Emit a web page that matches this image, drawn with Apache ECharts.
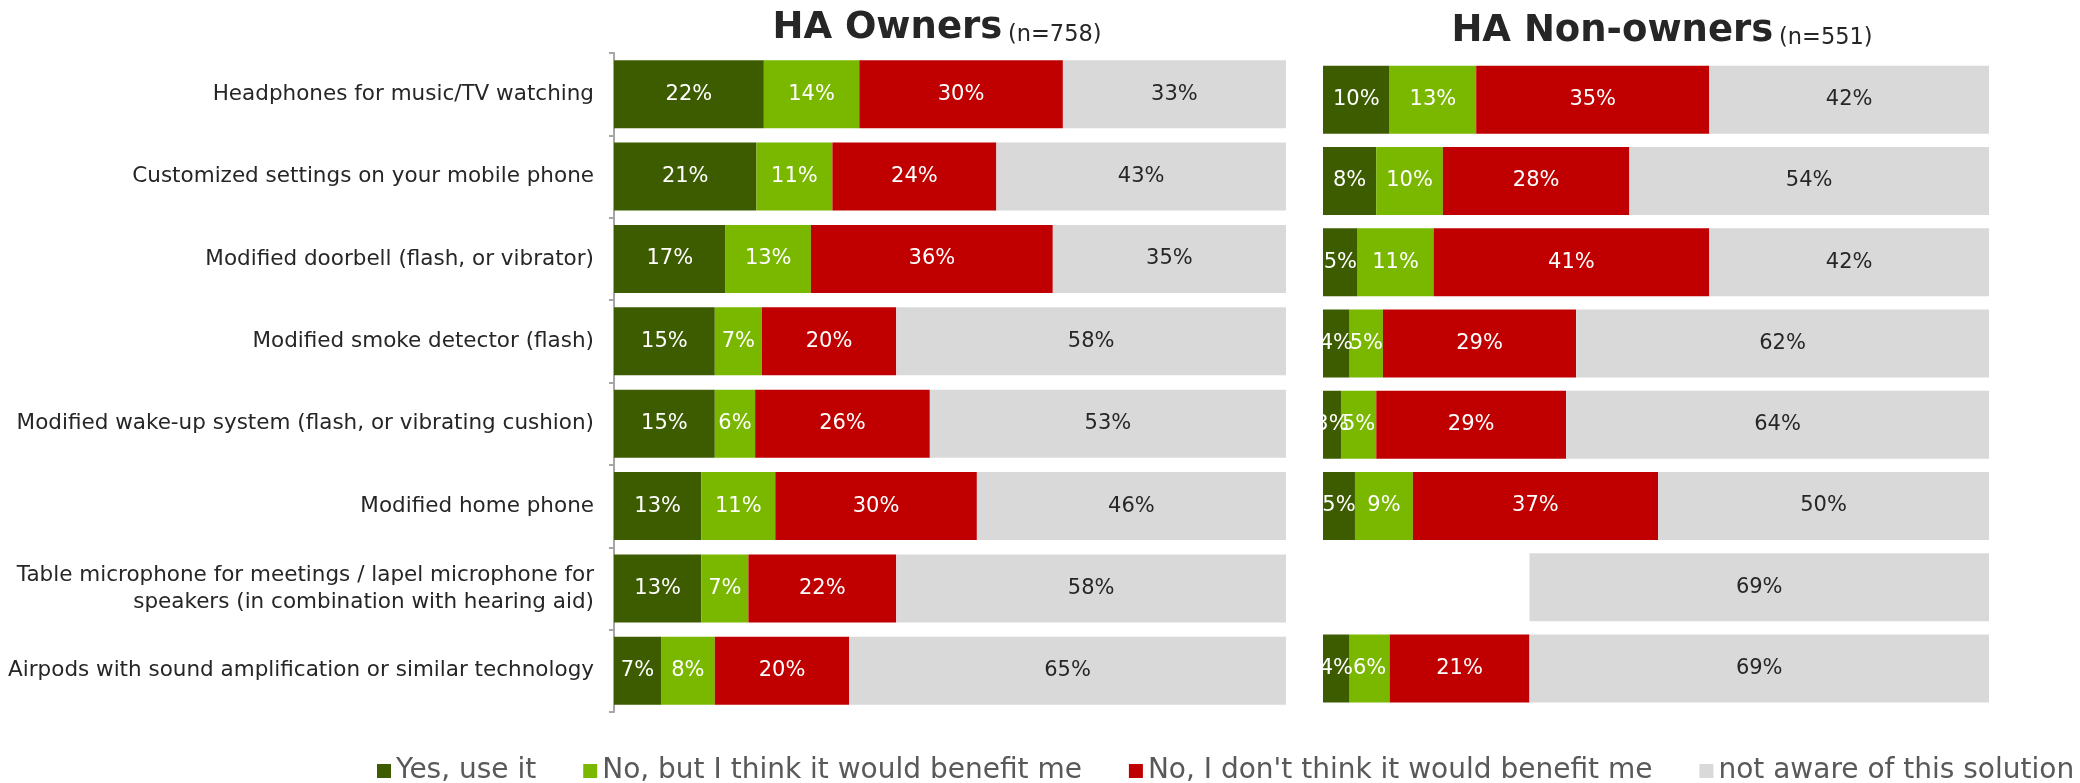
<!DOCTYPE html>
<html>
<head>
<meta charset="utf-8">
<title>Hearing solutions - HA owners vs non-owners</title>
<script src="https://cdn.jsdelivr.net/npm/echarts@6/dist/echarts.min.js"></script>
<style>
	html, body { margin: 0; padding: 0; background: #fff; }
	#chart { width: 2080px; height: 783px; }
</style>
</head>
<body>
<div id="chart"></div>
<script>
// categories (top to bottom)
var categories = [
	"Headphones for music/TV watching",
	"Customized settings on your mobile phone",
	"Modified doorbell (flash, or vibrator)",
	"Modified smoke detector (flash)",
	"Modified wake-up system (flash, or vibrating cushion)",
	"Modified home phone",
	"Table microphone for meetings / lapel microphone for\nspeakers (in combination with hearing aid)",
	"Airpods with sound amplification or similar technology"
];

var legendNames = [
	"Yes, use it",
	"No, but I think it would benefit me",
	"No, I don't think it would benefit me",
	"not aware of this solution"
];

// HA Owners (n=758), percent
var ownersYes = [22.3, 21.2, 16.6, 15, 15, 13, 13, 7];
var ownersBenefit = [14.2, 11.3, 12.7, 7, 6, 11, 7, 8];
var ownersNoBenefit = [30.3, 24.4, 36.0, 20, 26, 30, 22, 20];
var ownersUnaware = [33.2, 43.1, 34.7, 58, 53, 46, 58, 65];

// HA Non-owners (n=551), percent. row 7 only has the "not aware" part, shifted right
var nonOwnersYes = [10, 8, 5.2, 4, 2.7, 4.8, "-", 4];
var nonOwnersBenefit = [13, 10, 11.4, 5, 5.3, 8.7, "-", 6];
var nonOwnersNoBenefit = [35, 28, 41.4, 29, 28.5, 36.8, "-", 21];
var nonOwnersBlank = ["-", "-", "-", "-", "-", "-", 31, "-"];
var nonOwnersUnaware = [42, 54, 42, 62, 63.5, 49.7, 69, 69];

var colors = ["#3d5c00", "#7ab800", "#c00000", "#d9d9d9"];
var fontName = "DejaVu Sans";

function pctLabel(color) {
	return {
		show: true,
		position: "inside",
		color: color,
		fontFamily: fontName,
		fontSize: 21,
		formatter: function(p) {
			return Math.round(p.value) + "%";
		}
	};
}

function barSeries(name, data, idx, gridIdx) {
	return {
		name: name,
		type: "bar",
		stack: "s" + gridIdx,
		xAxisIndex: gridIdx,
		yAxisIndex: gridIdx,
		barWidth: 68,
		data: data,
		itemStyle: { color: colors[idx] },
		label: pctLabel(idx === 3 ? "#262626" : "#ffffff"),
		emphasis: { disabled: true }
	};
}

// title text styles (big bold name + small sample size)
var titleRich = {
	a: { fontFamily: fontName, fontWeight: "bold", fontSize: 37, color: "#262626", verticalAlign: "bottom", lineHeight: 44 },
	b: { fontFamily: fontName, fontWeight: "normal", fontSize: 22.5, color: "#262626", verticalAlign: "bottom", lineHeight: 38 }
};

function drawChart() {
	var chart = echarts.init(document.getElementById("chart"), null, { renderer: "canvas" });

	var option = {
		animation: false,
		backgroundColor: "#ffffff",
		textStyle: { fontFamily: fontName },
		title: [{
			text: "{a|HA Owners} {b|(n=758)}",
			left: 932,
			top: -2,
			textAlign: "center",
			textStyle: { fontWeight: "normal", rich: titleRich }
		}, {
			text: "{a|HA Non-owners} {b|(n=551)}",
			left: 1657,
			top: 1,
			textAlign: "center",
			textStyle: { fontWeight: "normal", rich: titleRich }
		}],
		legend: {
			data: legendNames,
			left: 372,
			top: 752,
			itemWidth: 14,
			itemHeight: 14,
			itemGap: 47,
			icon: "rect",
			selectedMode: false,
			textStyle: { fontFamily: fontName, fontSize: 28, color: "#595959" }
		},
		grid: [
			{ left: 614, top: 53, width: 672, height: 659 },
			{ left: 1323, top: 59, width: 666, height: 650 }
		],
		xAxis: [
			{ type: "value", gridIndex: 0, min: 0, max: 100, show: false },
			{ type: "value", gridIndex: 1, min: 0, max: 100, show: false }
		],
		yAxis: [{
			type: "category",
			gridIndex: 0,
			inverse: true,
			data: categories,
			axisLine: { show: true, lineStyle: { color: "#a6a6a6", width: 2 } },
			axisTick: { show: true, length: 5, lineStyle: { color: "#a6a6a6", width: 2 } },
			axisLabel: {
				margin: 20,
				fontFamily: fontName,
				fontSize: 21.5,
				color: "#262626",
				lineHeight: 27,
				align: "right"
			}
		}, {
			type: "category",
			gridIndex: 1,
			inverse: true,
			data: categories,
			show: false
		}],
		series: [
			barSeries(legendNames[0], ownersYes, 0, 0),
			barSeries(legendNames[1], ownersBenefit, 1, 0),
			barSeries(legendNames[2], ownersNoBenefit, 2, 0),
			barSeries(legendNames[3], ownersUnaware, 3, 0),
			barSeries(legendNames[0], nonOwnersYes, 0, 1),
			barSeries(legendNames[1], nonOwnersBenefit, 1, 1),
			barSeries(legendNames[2], nonOwnersNoBenefit, 2, 1),
			{
				// empty space in front of the row without answers
				name: "blank",
				type: "bar",
				stack: "s1",
				xAxisIndex: 1,
				yAxisIndex: 1,
				barWidth: 68,
				data: nonOwnersBlank,
				itemStyle: { color: "rgba(0,0,0,0)" },
				label: { show: false },
				emphasis: { disabled: true },
				silent: true
			},
			barSeries(legendNames[3], nonOwnersUnaware, 3, 1)
		]
	};

	chart.setOption(option);
	return chart;
}

var voChart = drawChart();

window.addEventListener("resize", function() {
	voChart.resize();
});
</script>
</body>
</html>
